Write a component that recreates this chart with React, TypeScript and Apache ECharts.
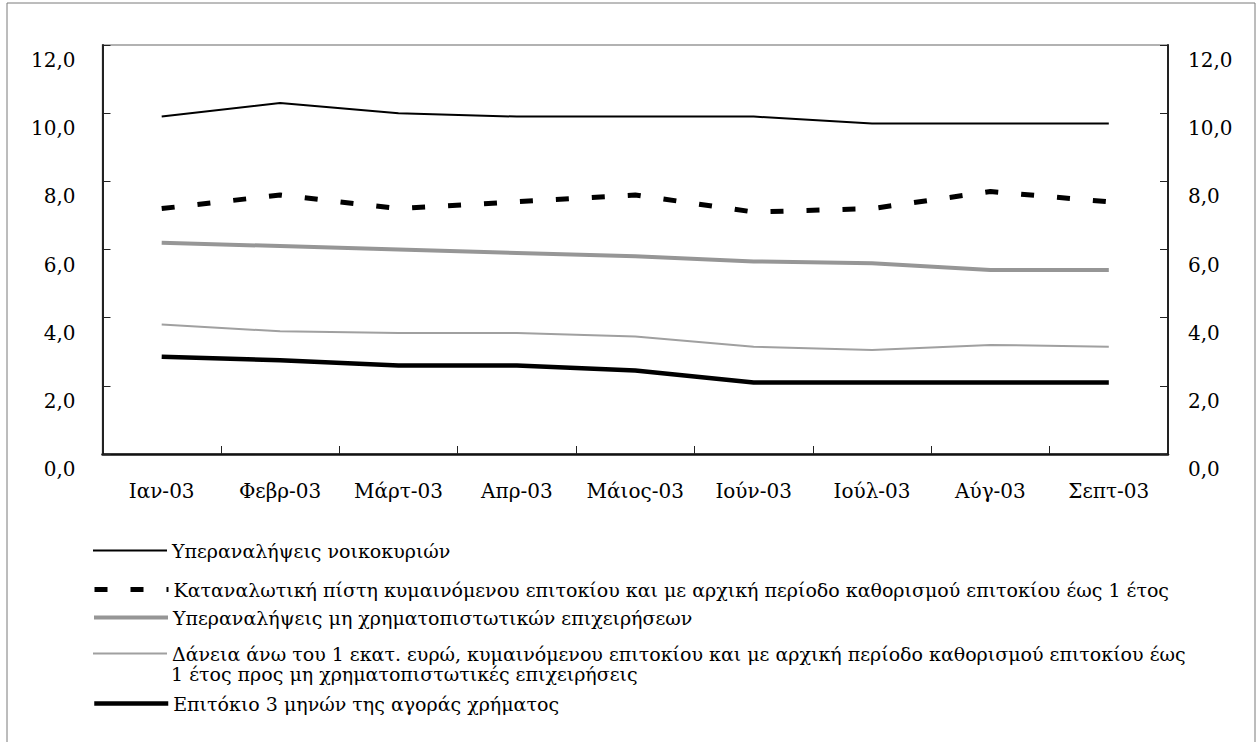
import React, { useEffect, useRef } from "react";
import * as echarts from "echarts";

const categories = ["Ιαν-03", "Φεβρ-03", "Μάρτ-03", "Απρ-03", "Μάιος-03", "Ιούν-03", "Ιούλ-03", "Αύγ-03", "Σεπτ-03"];

const names = [
  "Υπεραναλήψεις νοικοκυριών",
  "Καταναλωτική πίστη κυμαινόμενου επιτοκίου και με αρχική περίοδο καθορισμού επιτοκίου έως 1 έτος",
  "Υπεραναλήψεις μη χρηματοπιστωτικών επιχειρήσεων",
  "Δάνεια άνω του 1 εκατ. ευρώ, κυμαινόμενου επιτοκίου και με αρχική περίοδο καθορισμού επιτοκίου έως 1 έτος προς μη χρηματοπιστωτικές επιχειρήσεις",
  "Επιτόκιο 3 μηνών της αγοράς χρήματος",
];
const name4Line1 = "Δάνεια άνω του 1 εκατ. ευρώ, κυμαινόμενου επιτοκίου και με αρχική περίοδο καθορισμού επιτοκίου έως";
const name4Line2 = "1 έτος προς μη χρηματοπιστωτικές επιχειρήσεις";

const householdOverdrafts = [9.9, 10.3, 10.0, 9.9, 9.9, 9.9, 9.7, 9.7, 9.7];
const consumerCredit = [7.2, 7.6, 7.2, 7.4, 7.6, 7.1, 7.2, 7.7, 7.4];
const corporateOverdrafts = [6.2, 6.1, 6.0, 5.9, 5.8, 5.65, 5.6, 5.4, 5.4];
const largeLoans = [3.8, 3.6, 3.55, 3.55, 3.45, 3.15, 3.05, 3.2, 3.15];
const moneyMarket3m = [2.85, 2.75, 2.6, 2.6, 2.45, 2.1, 2.1, 2.1, 2.1];

const yTicks = { min: 0, max: 12, interval: 2 };

const FONT = "DejaVu Serif";
const AXIS_FS = 20;
const LEGEND_FS = 19;

export default function App() {
  const ref = useRef<HTMLDivElement>(null);
  useEffect(() => {
    if (!ref.current) return;
    const chart = echarts.init(ref.current, undefined, { renderer: "svg" });

    const styles = [
      { color: "#000000", width: 2, type: "solid" as any },
      { color: "#000000", width: 5, type: [13, 23] as any },
      { color: "#969696", width: 4, type: "solid" as any },
      { color: "#a0a0a0", width: 2, type: "solid" as any },
      { color: "#000000", width: 4.5, type: "solid" as any },
    ];
    const datasets = [householdOverdrafts, consumerCredit, corporateOverdrafts, largeLoans, moneyMarket3m];
    const legendTops = [541, 580, 608, 644, 694];

    const yLabel = (v: number) => v.toFixed(1).replace(".", ",");

    const axisY = (position: "left" | "right") => ({
      type: "value",
      position,
      min: yTicks.min,
      max: yTicks.max,
      interval: yTicks.interval,
      splitLine: { show: false },
      axisLine: { show: true, lineStyle: { color: "#222", width: 2 } },
      axisTick: { show: true, inside: true, length: 8, lineStyle: { color: "#222", width: 1 } },
      axisLabel: {
        formatter: yLabel,
        fontFamily: FONT,
        fontSize: AXIS_FS,
        color: "#000",
        verticalAlign: "top",
        padding: [5, 0, 0, 0],
        margin: position === "left" ? 27 : 20,
      },
    });

    chart.setOption({
      animation: false,
      backgroundColor: "#ffffff",
      grid: {
        left: 102.5,
        right: 92,
        top: 45,
        bottom: 288,
        show: true,
        borderColor: "#999",
        borderWidth: 1.5,
        containLabel: false,
      },
      xAxis: {
        type: "category",
        data: categories,
        boundaryGap: true,
        axisLine: { lineStyle: { color: "#111", width: 2.5 } },
        axisTick: { show: true, inside: true, length: 8, lineStyle: { color: "#222", width: 1 } },
        axisLabel: { fontFamily: FONT, fontSize: AXIS_FS, color: "#000", margin: 27, interval: 0 },
        splitLine: { show: false },
      },
      yAxis: [axisY("left"), axisY("right")],
      legend: names.map((n, i) => ({
        show: true,
        data: [n],
        left: 92,
        top: legendTops[i],
        orient: "vertical",
        itemWidth: 74,
        itemHeight: 22,
        itemGap: 0,
        padding: 0,
        selectedMode: false,
        itemStyle: { color: "rgba(0,0,0,0)", borderColor: "rgba(0,0,0,0)", borderWidth: 0 },
        lineStyle: { width: styles[i].width, type: styles[i].type, color: styles[i].color },
        formatter: i === 3 ? () => name4Line1 : undefined,
        textStyle: { fontFamily: FONT, fontSize: LEGEND_FS, color: "#000" },
      })),
      series: names.map((n, i) => ({
        name: n,
        type: "line",
        data: datasets[i],
        symbol: "none",
        showSymbol: false,
        lineStyle: styles[i],
        itemStyle: { color: styles[i].color },
        z: 5 - i,
      })),
      graphic: [
        {
          type: "rect",
          shape: { x: 7, y: 3, width: 1248, height: 800 },
          style: { fill: "none", stroke: "#7a7a7a", lineWidth: 1 },
          silent: true,
        },
        {
          type: "text",
          left: 171,
          top: 664,
          style: { text: name4Line2, font: `${LEGEND_FS}px ${FONT}`, fill: "#000" },
          silent: true,
        },
      ],
    });
    return () => chart.dispose();
  }, []);
  return <div ref={ref} style={{ position: "fixed", left: 0, top: 0, width: 1260, height: 742 }} />;
}
